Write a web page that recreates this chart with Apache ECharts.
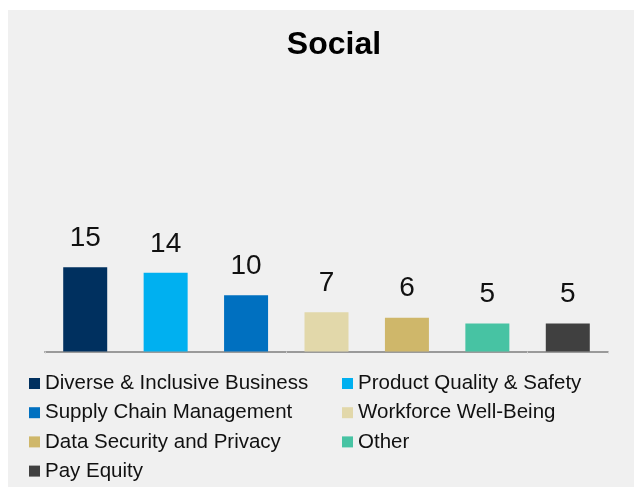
<!DOCTYPE html>
<html>
<head>
<meta charset="utf-8">
<script src="https://cdn.jsdelivr.net/npm/echarts@6/dist/echarts.min.js"></script>
<style>
  html, body { margin: 0; padding: 0; background: #ffffff; }
  #panel { position: absolute; left: 8px; top: 10px; width: 626px; height: 477px; background: #f0f0f0; }
  #chart { position: absolute; left: 0; top: 0; width: 634px; height: 487px; }
</style>
</head>
<body>
<div id="panel"></div>
<div id="chart"></div>
<script>
// Social topics and their counts
const categories = [
  'Diverse & Inclusive Business',
  'Product Quality & Safety',
  'Supply Chain Management',
  'Workforce Well-Being',
  'Data Security and Privacy',
  'Other',
  'Pay Equity'
];
const counts = [15, 14, 10, 7, 6, 5, 5];
const colors = ['#00305f', '#00b0f0', '#0070c0', '#e2d8aa', '#cfb76a', '#47c3a3', '#404040'];

// Two legend columns: odd-positioned topics on the left, even-positioned on the right
const leftColumn = categories.filter((_, i) => i % 2 === 0);
const rightColumn = categories.filter((_, i) => i % 2 === 1);

// One series per topic so each bar gets its own legend entry
const series = categories.map((name, i) => ({
  name: name,
  type: 'bar',
  barWidth: 44,
  barGap: '-100%',
  itemStyle: { color: colors[i] },
  label: {
    show: true,
    position: 'top',
    distance: 15,
    fontFamily: 'Arial, "Liberation Sans", sans-serif',
    fontSize: 28,
    lineHeight: 28,
    color: '#111111'
  },
  data: categories.map((_, j) => (j === i ? counts[i] : null))
}));

const legendText = {
  fontFamily: 'Arial, "Liberation Sans", sans-serif',
  fontSize: 20.5,
  lineHeight: 20,
  color: '#111111'
};

const chart = echarts.init(document.getElementById('chart'), null, { renderer: 'canvas' });
chart.setOption({
  backgroundColor: 'transparent',
  animation: false,
  title: {
    text: 'Social',
    left: 329,
    top: 24,
    textAlign: 'center',
    textStyle: {
      fontFamily: 'Arial, "Liberation Sans", sans-serif',
      fontSize: 32,
      fontWeight: 'bold',
      color: '#000000'
    }
  },
  legend: [
    {
      orient: 'vertical',
      left: 29,
      top: 373,
      itemWidth: 11,
      itemHeight: 11,
      itemGap: 8.2,
      icon: 'rect',
      padding: 0,
      selectedMode: false,
      textStyle: legendText,
      data: leftColumn
    },
    {
      orient: 'vertical',
      left: 342,
      top: 373,
      itemWidth: 11,
      itemHeight: 11,
      itemGap: 8.2,
      icon: 'rect',
      padding: 0,
      selectedMode: false,
      textStyle: legendText,
      data: rightColumn
    }
  ],
  grid: {
    left: 45,
    right: 26,
    top: 70.5,
    bottom: 135.5,
    containLabel: false
  },
  xAxis: {
    type: 'category',
    data: categories,
    axisLine: { lineStyle: { color: '#9a9a9a', width: 2 } },
    axisTick: { show: true, length: 2, lineStyle: { color: '#d0d0d0' } },
    axisLabel: { show: false },
    splitLine: { show: false }
  },
  yAxis: {
    type: 'value',
    min: 0,
    max: 50,
    show: false,
    splitLine: { show: false }
  },
  series: series
});
</script>
</body>
</html>
